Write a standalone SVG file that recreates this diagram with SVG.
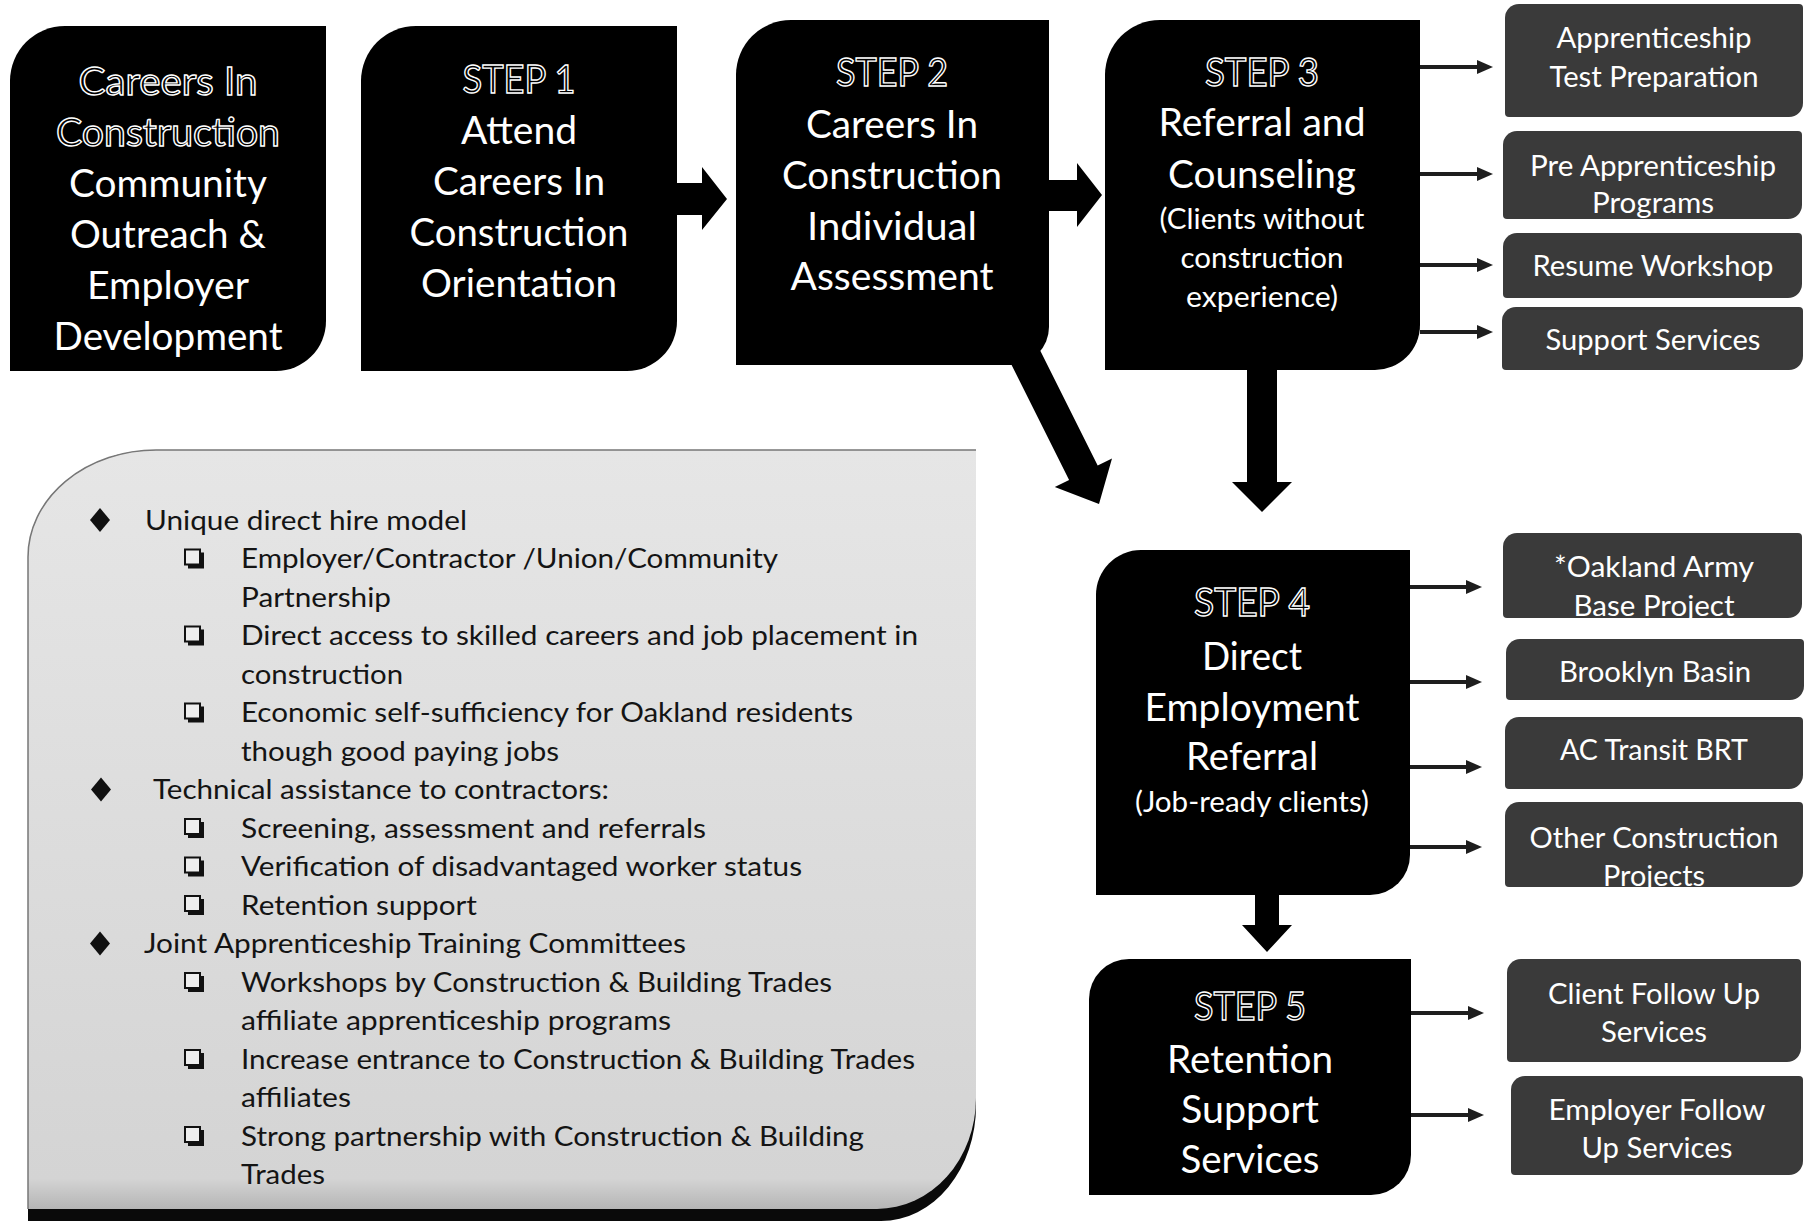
<svg xmlns="http://www.w3.org/2000/svg" xmlns:xlink="http://www.w3.org/1999/xlink" width="1805" height="1225" viewBox="0 0 1805 1225">
<style>
.box{fill:#000}
.rbox{fill:#3a3a3a}
.t{font-family:Lato,"Open Sans","Liberation Sans",sans-serif;fill:#fff;text-anchor:middle}
.big{font-size:38px}
.sm{font-size:29px}
.rt{font-size:28px}
.ol{fill:#000;stroke:#fff;stroke-width:1.4px}
.p{font-family:Lato,"Open Sans","Liberation Sans",sans-serif;font-size:27px;fill:#141414}
.conn{stroke:#1e1e1e;stroke-width:4;fill:none;marker-end:url(#ah)}
.arrow{fill:#000}
</style>
<defs>
<marker id="ah" markerUnits="userSpaceOnUse" viewBox="0 0 16 14" refX="8" refY="7" markerWidth="16" markerHeight="14" orient="auto">
<path d="M0,0 L16,7 L0,14 Z" fill="#1e1e1e"/>
</marker>
<linearGradient id="pg" x1="0" y1="0" x2="0" y2="1">
<stop offset="0" stop-color="#e6e6e6"/>
<stop offset="0.96" stop-color="#d4d4d4"/>
<stop offset="1" stop-color="#b5b5b5"/>
</linearGradient>
<path id="dia" d="M0,-12 L10,0 L0,12 L-10,0 Z" fill="#111"/>
<g id="sq">
<rect x="-6" y="-6" width="16" height="16" fill="#111"/>
<rect x="-9" y="-9" width="15" height="15" fill="#eeeeee" stroke="#111" stroke-width="2"/>
</g>
</defs>
<rect width="1805" height="1225" fill="#ffffff"/>

<g id="node-panel">
<path d="M156,450 H976 V1105 A95,115 0 0 1 881,1221 H28 V557 A128,107 0 0 1 156,450 Z" fill="#0a0a0a"/>
<path d="M156,450 H976 V1098 A99,111 0 0 1 877,1209 H28 V557 A128,107 0 0 1 156,450 Z" fill="url(#pg)"/>
<path d="M28,1209 V557 A128,107 0 0 1 156,450 H976" fill="none" stroke="#777" stroke-width="1.5"/>
<use xlink:href="#dia" x="100" y="520"/>
<use xlink:href="#dia" x="101" y="789.5"/>
<use xlink:href="#dia" x="100" y="943.5"/>
<use xlink:href="#sq" x="194" y="558.5"/>
<use xlink:href="#sq" x="194" y="635.5"/>
<use xlink:href="#sq" x="194" y="712.5"/>
<use xlink:href="#sq" x="194" y="828"/>
<use xlink:href="#sq" x="194" y="866.5"/>
<use xlink:href="#sq" x="194" y="905"/>
<use xlink:href="#sq" x="194" y="982"/>
<use xlink:href="#sq" x="194" y="1059"/>
<use xlink:href="#sq" x="194" y="1136"/>
<text class="p" x="145" y="529.5" textLength="322" lengthAdjust="spacingAndGlyphs">Unique direct hire model</text>
<text class="p" x="241" y="568" textLength="537" lengthAdjust="spacingAndGlyphs">Employer/Contractor /Union/Community</text>
<text class="p" x="241" y="606.5" textLength="150" lengthAdjust="spacingAndGlyphs">Partnership</text>
<text class="p" x="241" y="645" textLength="677" lengthAdjust="spacingAndGlyphs">Direct access to skilled careers and job placement in</text>
<text class="p" x="241" y="683.5" textLength="162" lengthAdjust="spacingAndGlyphs">construction</text>
<text class="p" x="241" y="722" textLength="612" lengthAdjust="spacingAndGlyphs">Economic self-sufficiency for Oakland residents</text>
<text class="p" x="241" y="760.5" textLength="318" lengthAdjust="spacingAndGlyphs">though good paying jobs</text>
<text class="p" x="153" y="799" textLength="456" lengthAdjust="spacingAndGlyphs">Technical assistance to contractors:</text>
<text class="p" x="241" y="837.5" textLength="465" lengthAdjust="spacingAndGlyphs">Screening, assessment and referrals</text>
<text class="p" x="241" y="876" textLength="561" lengthAdjust="spacingAndGlyphs">Verification of disadvantaged worker status</text>
<text class="p" x="241" y="914.5" textLength="236" lengthAdjust="spacingAndGlyphs">Retention support</text>
<text class="p" x="144" y="953" textLength="542" lengthAdjust="spacingAndGlyphs">Joint Apprenticeship Training Committees</text>
<text class="p" x="241" y="991.5" textLength="591" lengthAdjust="spacingAndGlyphs">Workshops by Construction &amp; Building Trades</text>
<text class="p" x="241" y="1030" textLength="430" lengthAdjust="spacingAndGlyphs">affiliate apprenticeship programs</text>
<text class="p" x="241" y="1068.5" textLength="674" lengthAdjust="spacingAndGlyphs">Increase entrance to Construction &amp; Building Trades</text>
<text class="p" x="241" y="1107" textLength="110" lengthAdjust="spacingAndGlyphs">affiliates</text>
<text class="p" x="241" y="1145.5" textLength="623" lengthAdjust="spacingAndGlyphs">Strong partnership with Construction &amp; Building</text>
<text class="p" x="241" y="1184" textLength="84" lengthAdjust="spacingAndGlyphs">Trades</text>
</g>

<g id="node-careers">
<path class="box" d="M65,26 H326 V321 A50,50 0 0 1 276,371 H10 V81 A55,55 0 0 1 65,26 Z"/>
<text class="t big ol" x="168" y="95" textLength="179" lengthAdjust="spacingAndGlyphs">Careers In</text>
<text class="t big ol" x="168" y="146" textLength="224" lengthAdjust="spacingAndGlyphs">Construction</text>
<text class="t big" x="168" y="197" textLength="198" lengthAdjust="spacingAndGlyphs">Community</text>
<text class="t big" x="168" y="248" textLength="196" lengthAdjust="spacingAndGlyphs">Outreach &amp;</text>
<text class="t big" x="168" y="299" textLength="162" lengthAdjust="spacingAndGlyphs">Employer</text>
<text class="t big" x="168" y="350" textLength="229" lengthAdjust="spacingAndGlyphs">Development</text>
</g>

<g id="node-step1">
<path class="box" d="M416,26 H677 V321 A50,50 0 0 1 627,371 H361 V81 A55,55 0 0 1 416,26 Z"/>
<text class="t big ol" x="519" y="93" textLength="113" lengthAdjust="spacingAndGlyphs">STEP 1</text>
<text class="t big" x="519" y="144" textLength="116" lengthAdjust="spacingAndGlyphs">Attend</text>
<text class="t big" x="519" y="195" textLength="172" lengthAdjust="spacingAndGlyphs">Careers In</text>
<text class="t big" x="519" y="246" textLength="219" lengthAdjust="spacingAndGlyphs">Construction</text>
<text class="t big" x="519" y="297" textLength="196" lengthAdjust="spacingAndGlyphs">Orientation</text>
</g>

<g id="node-step2">
<path class="box" d="M791,20 H1049 V327 A38,38 0 0 1 1011,365 H736 V75 A55,55 0 0 1 791,20 Z"/>
<text class="t big ol" x="892" y="86" textLength="112" lengthAdjust="spacingAndGlyphs">STEP 2</text>
<text class="t big" x="892" y="138" textLength="172" lengthAdjust="spacingAndGlyphs">Careers In</text>
<text class="t big" x="892" y="189" textLength="220" lengthAdjust="spacingAndGlyphs">Construction</text>
<text class="t big" x="892" y="240" textLength="170" lengthAdjust="spacingAndGlyphs">Individual</text>
<text class="t big" x="892" y="290" textLength="203" lengthAdjust="spacingAndGlyphs">Assessment</text>
</g>

<g id="node-step3">
<path class="box" d="M1160,20 H1420 V325 A45,45 0 0 1 1375,370 H1105 V75 A55,55 0 0 1 1160,20 Z"/>
<text class="t big ol" x="1262" y="86" textLength="114" lengthAdjust="spacingAndGlyphs">STEP 3</text>
<text class="t big" x="1262" y="136" textLength="207" lengthAdjust="spacingAndGlyphs">Referral and</text>
<text class="t big" x="1262" y="188" textLength="188" lengthAdjust="spacingAndGlyphs">Counseling</text>
<text class="t sm" x="1262" y="229" textLength="205" lengthAdjust="spacingAndGlyphs">(Clients without</text>
<text class="t sm" x="1262" y="268" textLength="163" lengthAdjust="spacingAndGlyphs">construction</text>
<text class="t sm" x="1262" y="307" textLength="152" lengthAdjust="spacingAndGlyphs">experience)</text>
</g>

<g id="node-step4">
<path class="box" d="M1141,550 H1410 V855 A40,40 0 0 1 1370,895 H1096 V595 A45,45 0 0 1 1141,550 Z"/>
<text class="t big ol" x="1252" y="616" textLength="116" lengthAdjust="spacingAndGlyphs">STEP 4</text>
<text class="t big" x="1252" y="670" textLength="100" lengthAdjust="spacingAndGlyphs">Direct</text>
<text class="t big" x="1252" y="721" textLength="215" lengthAdjust="spacingAndGlyphs">Employment</text>
<text class="t big" x="1252" y="770" textLength="132" lengthAdjust="spacingAndGlyphs">Referral</text>
<text class="t sm" x="1252" y="812" textLength="234" lengthAdjust="spacingAndGlyphs">(Job-ready clients)</text>
</g>

<g id="node-step5">
<path class="box" d="M1129,959 H1411 V1155 A40,40 0 0 1 1371,1195 H1089 V999 A40,40 0 0 1 1129,959 Z"/>
<text class="t big ol" x="1250" y="1020" textLength="112" lengthAdjust="spacingAndGlyphs">STEP 5</text>
<text class="t big" x="1250" y="1073" textLength="166" lengthAdjust="spacingAndGlyphs">Retention</text>
<text class="t big" x="1250" y="1123" textLength="138" lengthAdjust="spacingAndGlyphs">Support</text>
<text class="t big" x="1250" y="1173" textLength="139" lengthAdjust="spacingAndGlyphs">Services</text>
</g>

<g id="node-apprenticeship-test">
<path class="rbox" d="M1519,4 H1799 Q1803,4 1803,8 V103 A14,14 0 0 1 1789,117 H1509 Q1505,117 1505,113 V18 A14,14 0 0 1 1519,4 Z"/>
<text class="t rt" x="1654" y="48" textLength="195" lengthAdjust="spacingAndGlyphs">Apprenticeship</text>
<text class="t rt" x="1654" y="87" textLength="209" lengthAdjust="spacingAndGlyphs">Test Preparation</text>
</g>
<g id="node-pre-apprenticeship">
<path class="rbox" d="M1517,131 H1798 Q1802,131 1802,135 V205 A14,14 0 0 1 1788,219 H1507 Q1503,219 1503,215 V145 A14,14 0 0 1 1517,131 Z"/>
<text class="t rt" x="1653" y="176" textLength="246" lengthAdjust="spacingAndGlyphs">Pre Apprenticeship</text>
<text class="t rt" x="1653" y="213" textLength="122" lengthAdjust="spacingAndGlyphs">Programs</text>
</g>
<g id="node-resume">
<path class="rbox" d="M1517,233 H1798 Q1802,233 1802,237 V284 A14,14 0 0 1 1788,298 H1507 Q1503,298 1503,294 V247 A14,14 0 0 1 1517,233 Z"/>
<text class="t rt" x="1653" y="276" textLength="241" lengthAdjust="spacingAndGlyphs">Resume Workshop</text>
</g>
<g id="node-support">
<path class="rbox" d="M1516,307 H1799 Q1803,307 1803,311 V356 A14,14 0 0 1 1789,370 H1506 Q1502,370 1502,366 V321 A14,14 0 0 1 1516,307 Z"/>
<text class="t rt" x="1653" y="350" textLength="215" lengthAdjust="spacingAndGlyphs">Support Services</text>
</g>
<g id="node-oakland">
<path class="rbox" d="M1517,533 H1798 Q1802,533 1802,537 V604 A14,14 0 0 1 1788,618 H1507 Q1503,618 1503,614 V547 A14,14 0 0 1 1517,533 Z"/>
<text class="t rt" x="1654" y="577" textLength="200" lengthAdjust="spacingAndGlyphs">*Oakland Army</text>
<text class="t rt" x="1654" y="616" textLength="161" lengthAdjust="spacingAndGlyphs">Base Project</text>
</g>
<g id="node-brooklyn">
<path class="rbox" d="M1520,639 H1800 Q1804,639 1804,643 V686 A14,14 0 0 1 1790,700 H1510 Q1506,700 1506,696 V653 A14,14 0 0 1 1520,639 Z"/>
<text class="t rt" x="1655" y="682" textLength="192" lengthAdjust="spacingAndGlyphs">Brooklyn Basin</text>
</g>
<g id="node-actransit">
<path class="rbox" d="M1519,717 H1799 Q1803,717 1803,721 V775 A14,14 0 0 1 1789,789 H1509 Q1505,789 1505,785 V731 A14,14 0 0 1 1519,717 Z"/>
<text class="t rt" x="1654" y="760" textLength="188" lengthAdjust="spacingAndGlyphs">AC Transit BRT</text>
</g>
<g id="node-other">
<path class="rbox" d="M1519,802 H1799 Q1803,802 1803,806 V873 A14,14 0 0 1 1789,887 H1509 Q1505,887 1505,883 V816 A14,14 0 0 1 1519,802 Z"/>
<text class="t rt" x="1654" y="848" textLength="249" lengthAdjust="spacingAndGlyphs">Other Construction</text>
<text class="t rt" x="1654" y="886" textLength="102" lengthAdjust="spacingAndGlyphs">Projects</text>
</g>
<g id="node-client-followup">
<path class="rbox" d="M1521,959 H1797 Q1801,959 1801,963 V1048 A14,14 0 0 1 1787,1062 H1511 Q1507,1062 1507,1058 V973 A14,14 0 0 1 1521,959 Z"/>
<text class="t rt" x="1654" y="1004" textLength="212" lengthAdjust="spacingAndGlyphs">Client Follow Up</text>
<text class="t rt" x="1654" y="1042" textLength="106" lengthAdjust="spacingAndGlyphs">Services</text>
</g>
<g id="node-employer-followup">
<path class="rbox" d="M1525,1076 H1799 Q1803,1076 1803,1080 V1161 A14,14 0 0 1 1789,1175 H1515 Q1511,1175 1511,1171 V1090 A14,14 0 0 1 1525,1076 Z"/>
<text class="t rt" x="1657" y="1120" textLength="217" lengthAdjust="spacingAndGlyphs">Employer Follow</text>
<text class="t rt" x="1657" y="1158" textLength="151" lengthAdjust="spacingAndGlyphs">Up Services</text>
</g>

<g id="connectors">
<path class="arrow" d="M676,183 H702 V167 L727,199 L702,230 V215 H676 Z"/>
<path class="arrow" d="M1048,180 H1077 V163 L1102,195 L1077,227 V211 H1048 Z"/>
<polygon class="arrow" points="1035.3,340.8 1097.7,465.5 1112,458.4 1099,504 1054.8,487 1069.1,479.9 1006.7,355.2"/>
<path class="arrow" d="M1247,369 H1277 V482 H1292 L1262,512 L1232,482 H1247 Z"/>
<path class="arrow" d="M1255,894 H1279 V925 H1292 L1267,952 L1242,925 H1255 Z"/>
<line class="conn" x1="1420" y1="67" x2="1485" y2="67"/>
<line class="conn" x1="1420" y1="174" x2="1485" y2="174"/>
<line class="conn" x1="1420" y1="265" x2="1485" y2="265"/>
<line class="conn" x1="1420" y1="332" x2="1485" y2="332"/>
<line class="conn" x1="1410" y1="587" x2="1474" y2="587"/>
<line class="conn" x1="1410" y1="682" x2="1474" y2="682"/>
<line class="conn" x1="1410" y1="767" x2="1474" y2="767"/>
<line class="conn" x1="1410" y1="847" x2="1474" y2="847"/>
<line class="conn" x1="1411" y1="1013" x2="1476" y2="1013"/>
<line class="conn" x1="1411" y1="1115" x2="1476" y2="1115"/>
</g>
</svg>
